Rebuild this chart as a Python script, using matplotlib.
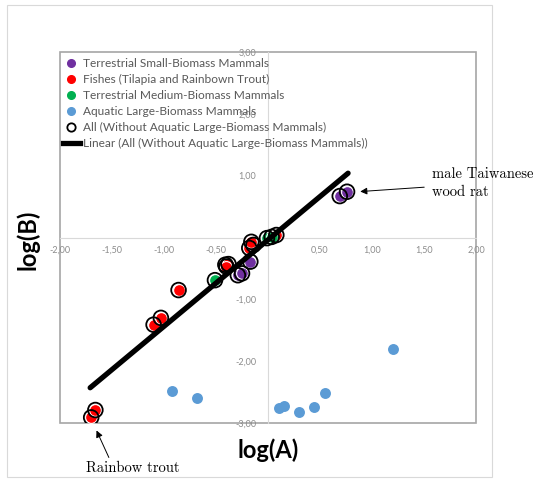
import numpy as np
import matplotlib
matplotlib.use('Agg')
import matplotlib.pyplot as plt
from matplotlib.patches import Rectangle
from matplotlib.lines import Line2D
from matplotlib.ticker import FuncFormatter

# log values
purple_x = [-0.29, -0.25, -0.17, 0.69, 0.76]
purple_y = [-0.61, -0.58, -0.39, 0.67, 0.74]
red_x = [-1.70, -1.66, -1.10, -1.03, -0.86, -0.41, -0.38, -0.40, -0.18, -0.14, -0.16, 0.08]
red_y = [-2.91, -2.79, -1.41, -1.30, -0.85, -0.44, -0.43, -0.47, -0.17, -0.12, -0.07, 0.04]
green_x = [-0.51, -0.01, 0.035]
green_y = [-0.69, -0.01, 0.01]
blue_x = [-0.92, -0.68, 0.11, 0.15, 0.30, 0.445, 0.545, 1.20]
blue_y = [-2.475, -2.60, -2.76, -2.73, -2.82, -2.74, -2.51, -1.80]
trend_x = [-1.71, 0.77]
trend_y = [-2.43, 1.04]

labels = ['Terrestrial Small-Biomass Mammals',
          'Fishes (Tilapia and Rainbown Trout)',
          'Terrestrial Medium-Biomass Mammals',
          'Aquatic Large-Biomass Mammals',
          'All (Without Aquatic Large-Biomass Mammals)',
          'Linear (All (Without Aquatic Large-Biomass Mammals))']

W, H = 539, 480
fig = plt.figure(figsize=(W / 100, H / 100), dpi=100)
ax = fig.add_axes([60 / W, 1 - 423 / H, 416 / W, 371 / H])

purple, red, green, blue = '#7030A0', '#FF0000', '#00B050', '#5B9BD5'
all_x = purple_x + red_x + green_x
all_y = purple_y + red_y + green_y

ax.scatter(purple_x, purple_y, s=72, c=purple, edgecolors='white', linewidths=0.8, zorder=3)
ax.scatter(red_x, red_y, s=72, c=red, edgecolors='white', linewidths=0.8, zorder=3)
ax.scatter(green_x, green_y, s=72, c=green, edgecolors='white', linewidths=0.8, zorder=3)
ax.scatter(blue_x, blue_y, s=62, c=blue, linewidths=0, zorder=3)
ax.scatter(all_x, all_y, s=112, facecolors='none', edgecolors='black', linewidths=1.3, zorder=4)
ax.plot(trend_x, trend_y, color='black', lw=3.8, solid_capstyle='round', zorder=5)

ax.set_xlim(-2, 2)
ax.set_ylim(-3, 3)
ax.set_xticks([-2, -1.5, -1, -0.5, 0.5, 1, 1.5, 2])
ax.set_yticks([-3, -2, -1, 1, 2, 3])
fmt = FuncFormatter(lambda v, p: ('%.2f' % v).replace('.', ','))
ax.xaxis.set_major_formatter(fmt)
ax.yaxis.set_major_formatter(fmt)
ax.spines['left'].set_position(('data', 0))
ax.spines['bottom'].set_position(('data', 0))
for s in ['left', 'bottom']:
    ax.spines[s].set_color('#d9d9d9')
    ax.spines[s].set_linewidth(0.8)
for s in ['top', 'right']:
    ax.spines[s].set_visible(False)
ax.tick_params(length=0, labelsize=6.5, labelcolor='#8c8c8c')
ax.tick_params(axis='y', pad=8.5)
ax.tick_params(axis='x', pad=6)
for t in ax.get_xticklabels() + ax.get_yticklabels():
    t.set_fontfamily('Lato')
ax.add_patch(Rectangle((0, 0), 1, 1, transform=ax.transAxes, fill=False,
                       ec='#a6a6a6', lw=1.2, clip_on=False, zorder=1))

fig.patches.append(Rectangle((7 / W, 3 / H), 485 / W, 472 / H, transform=fig.transFigure,
                             fill=False, ec='#d9d9d9', lw=0.8))

fig.text(28 / W, 1 - 240 / H, 'log(B)', rotation=90, ha='center', va='center',
         fontsize=17, fontweight='bold', family='Lato')
fig.text(268 / W, 1 - 450 / H, 'log(A)', ha='center', va='center',
         fontsize=17, fontweight='bold', family='Lato')

handles = [
    Line2D([], [], ls='', marker='o', color=purple, ms=5.5),
    Line2D([], [], ls='', marker='o', color=red, ms=5.5),
    Line2D([], [], ls='', marker='o', color=green, ms=5.5),
    Line2D([], [], ls='', marker='o', color=blue, ms=5.5),
    Line2D([], [], ls='', marker='o', mfc='none', mec='black', mew=1.3, ms=6),
    Line2D([], [], color='black', lw=3.8),
]
leg = ax.legend(handles, labels, loc='upper left', bbox_to_anchor=(63 / W, 1 - 58 / H),
                bbox_transform=fig.transFigure, frameon=False,
                prop={'family': 'Lato', 'size': 8.6}, labelcolor='#595959',
                handlelength=1.4, handletextpad=0.3, labelspacing=0.42,
                borderpad=0, borderaxespad=0)
leg.set_zorder(6)

# annotations
ax.annotate('', xy=(0.86, 0.74), xytext=(427, H - 187), textcoords='figure pixels',
            arrowprops=dict(arrowstyle='-|>', color='black', lw=0.7, mutation_scale=10),
            annotation_clip=False)
fig.text(432 / W, 1 - 183 / H, 'male Taiwanese\nwood rat', ha='left', va='center',
         fontsize=10.5, family='cmr10', linespacing=1.45)
ax.annotate('', xy=(-1.66, -3.08), xytext=(110, H - 460), textcoords='figure pixels',
            arrowprops=dict(arrowstyle='-|>', color='black', lw=0.7, mutation_scale=10),
            annotation_clip=False)
fig.text(86 / W, 1 - 468 / H, 'Rainbow trout', ha='left', va='center',
         fontsize=10.5, family='cmr10')

fig.savefig('out.png', dpi=100)
